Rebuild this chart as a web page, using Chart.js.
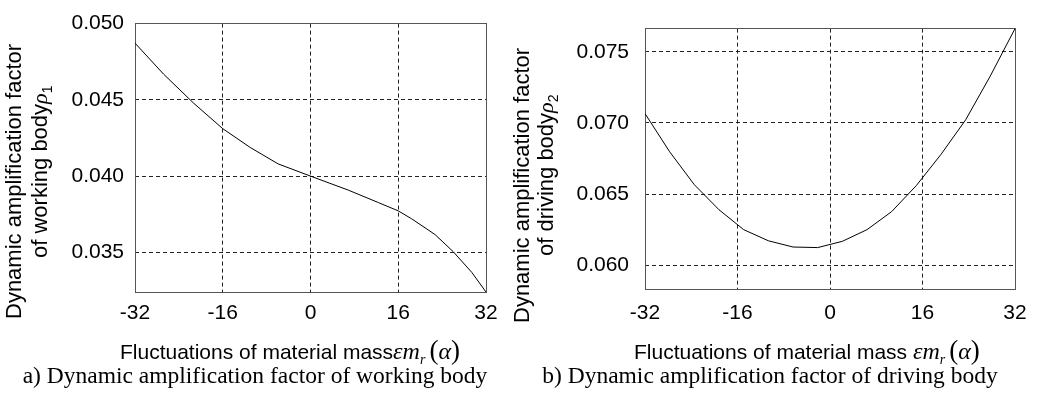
<!DOCTYPE html>
<html>
<head>
<meta charset="utf-8">
<script src="https://cdn.jsdelivr.net/npm/chart.js@4.4.1/dist/chart.umd.min.js"></script>
<style>
  html, body { margin: 0; padding: 0; background: #fff; }
  #stage { position: relative; width: 1046px; height: 401px; overflow: hidden; background: #fff; }
  .panel { position: absolute; top: 0; }
  .ytitle {
    position: absolute; white-space: nowrap; transform-origin: 0 0; transform: rotate(-90deg);
    font: 22px/22px "Liberation Sans", Arial, sans-serif; color: #000;
  }
  .xtitle {
    position: absolute; white-space: nowrap;
    font: 21px/21px "Liberation Sans", Arial, sans-serif; color: #000;
  }
  .math { font-family: "Liberation Serif", "Times New Roman", serif; font-size: 24px; }
  .math i { font-style: italic; }
  .math .par { font-style: normal; font-size: 27px; }
  .rho { font-family: "Liberation Serif", "Times New Roman", serif; font-style: italic; }
  .sub { font-size: 14px; vertical-align: -5px; }
  .caption {
    position: absolute; white-space: nowrap; transform: translateX(-50%);
    font: 23.5px/23px "Liberation Serif", "Times New Roman", serif; color: #000;
  }
</style>
</head>
<body>
<div id="stage">
  <div class="panel" style="left:0;width:516px;height:401px"><canvas id="chartA" width="516" height="401"></canvas></div>
  <div class="panel" style="left:516px;width:530px;height:401px"><canvas id="chartB" width="530" height="401"></canvas></div>

  <div class="ytitle" style="left:3px;top:319px">Dynamic amplification factor</div>
  <div class="ytitle" style="left:29px;top:258px">of working body<span class="rho">ρ</span><span class="sub">1</span></div>
  <div class="ytitle" style="left:511px;top:323px">Dynamic amplification factor</div>
  <div class="ytitle" style="left:535px;top:256px">of driving body<span class="rho">ρ</span><span class="sub">2</span></div>

  <div class="xtitle" style="left:120px;top:340px">Fluctuations of material mass<span class="math"><i>ε</i><i>m</i><i class="sub">r</i><span class="par" style="margin-left:4px">(</span><i>α</i><span class="par">)</span></span></div>
  <div class="xtitle" style="left:634px;top:340px">Fluctuations of material mass <span class="math"><i>ε</i><i>m</i><i class="sub">r</i><span class="par" style="margin-left:4px">(</span><i>α</i><span class="par">)</span></span></div>

  <div class="caption" style="left:255px;top:364px">a) Dynamic amplification factor of working body</div>
  <div class="caption" style="left:770px;top:364px">b) Dynamic amplification factor of driving body</div>
</div>

<script>
// ---------- data ----------
const xTicks = [-32, -16, 0, 16, 32];

// a) working body
const xWorking = [-32, -26.8, -21.3, -16, -11, -5.9, 0, 6.9, 12.4, 16, 18.4, 22.7, 26, 29.4, 32];
const rhoWorking = [0.04872, 0.04669, 0.04478, 0.04311, 0.04188, 0.04080, 0.04000, 0.03908,
                    0.03826, 0.03772, 0.03721, 0.03617, 0.03505, 0.03369, 0.03240];
const yTicksWorking = [0.035, 0.040, 0.045, 0.050];

// b) driving body
const xDriving = [-32, -27.73, -23.47, -19.2, -14.93, -10.67, -6.4, -2.13,
                  2.13, 6.4, 10.67, 14.93, 19.2, 23.47, 27.73, 32];
const rhoDriving = [0.07066, 0.06797, 0.06566, 0.06390, 0.06250, 0.06172, 0.06128, 0.06124,
                    0.06168, 0.06250, 0.06377, 0.06560, 0.06779, 0.07022, 0.07330, 0.07663];
const yTicksDriving = [0.060, 0.065, 0.070, 0.075];

// ---------- helpers ----------
const tickFont = { family: '"Liberation Sans", Arial, sans-serif', size: 21 };

// same pixel snapping as chart.js uses for 1px grid lines
const snap = p => Math.round(p - 0.5) + 0.5;

// solid frame around the plot area
const frameBox = {
  id: 'frameBox',
  beforeDatasetsDraw(chart) {
    const { ctx, chartArea: a } = chart;
    const l = snap(a.left), t = snap(a.top), r = snap(a.right), b = snap(a.bottom);
    ctx.save();
    ctx.strokeStyle = '#555';
    ctx.lineWidth = 1;
    ctx.strokeRect(l, t, r - l, b - t);
    ctx.restore();
  }
};

function makeChart(id, xs, ys, yTicks, cfg) {
  const ctx = document.getElementById(id).getContext('2d');
  return new Chart(ctx, {
    type: 'line',
    data: {
      datasets: [{
        data: xs.map((x, i) => ({ x: x, y: ys[i] })),
        borderColor: '#000',
        borderWidth: 1,
        pointRadius: 0,
        tension: 0,
        fill: false
      }]
    },
    options: {
      responsive: false,
      animation: false,
      layout: { padding: cfg.padding },
      plugins: { legend: { display: false }, tooltip: { enabled: false } },
      scales: {
        x: {
          type: 'linear', min: -32, max: 32,
          afterBuildTicks: s => { s.ticks = xTicks.map(v => ({ value: v })); },
          afterFit: s => { s.height = cfg.xHeight; },
          border: { display: false, dash: [4, 3] },
          grid: { color: '#222', lineWidth: 1, drawTicks: false },
          ticks: { color: '#000', font: tickFont, padding: cfg.xPad, maxRotation: 0, callback: v => String(v) }
        },
        y: {
          min: cfg.yMin, max: cfg.yMax,
          afterBuildTicks: s => { s.ticks = yTicks.map(v => ({ value: v })); },
          afterFit: s => { s.width = cfg.yWidth; },
          border: { display: false, dash: [4, 3] },
          grid: { color: '#222', lineWidth: 1, drawTicks: false },
          ticks: { color: '#000', font: tickFont, padding: cfg.yPad, callback: v => v.toFixed(3) }
        }
      }
    },
    plugins: [frameBox]
  });
}

// ---------- charts ----------
makeChart('chartA', xWorking, rhoWorking, yTicksWorking, {
  padding: { left: 0, right: 30, top: 19.5, bottom: 49 },
  xHeight: 60, xPad: 9, yWidth: 135, yPad: 11,
  yMin: 0.0324, yMax: 0.050
});

makeChart('chartB', xDriving, rhoDriving, yTicksDriving, {
  padding: { left: 0, right: 31, top: 12, bottom: 52 },
  xHeight: 60, xPad: 12, yWidth: 129, yPad: 16,
  yMin: 0.05833, yMax: 0.07663
});
</script>
</body>
</html>
